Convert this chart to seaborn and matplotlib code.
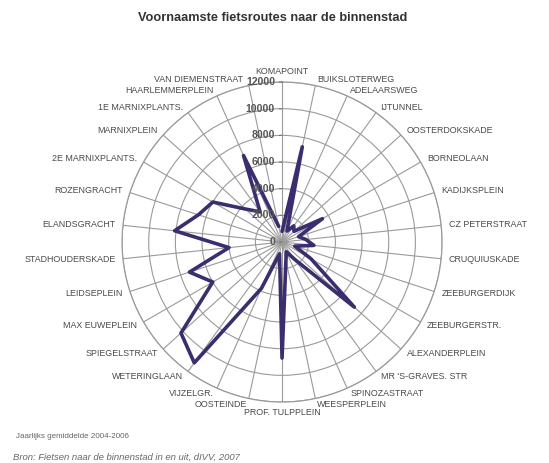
import numpy as np
import pandas as pd
import matplotlib
matplotlib.use("Agg")
import matplotlib.pyplot as plt
import seaborn as sns

# routes clockwise, starting at the top
routes = [
    "KOMAPOINT", "BUIKSLOTERWEG", "ADELAARSWEG", "IJTUNNEL", "OOSTERDOKSKADE",
    "BORNEOLAAN", "KADIJKSPLEIN", "CZ PETERSTRAAT", "CRUQUIUSKADE", "ZEEBURGERDIJK",
    "ZEEBURGERSTR.", "ALEXANDERPLEIN", "MR 'S-GRAVES. STR", "SPINOZASTRAAT", "WEESPERPLEIN",
    "PROF. TULPPLEIN", "OOSTEINDE", "VIJZELGR.", "WETERINGLAAN", "SPIEGELSTRAAT",
    "MAX EUWEPLEIN", "LEIDSEPLEIN", "STADHOUDERSKADE", "ELANDSGRACHT", "ROZENGRACHT",
    "2E MARNIXPLANTS.", "MARNIXPLEIN", "1E MARNIXPLANTS.", "HAARLEMMERPLEIN", "VAN DIEMENSTRAAT",
]
counts = [
    800, 7300, 900, 1500, 1200,
    3500, 1300, 1800, 2400, 1000,
    2500, 7300, 1600, 800, 1400,
    8700, 900, 3800, 11200, 10200,
    6000, 7300, 4000, 8100, 6600,
    6000, 3700, 2800, 7100, 1200,
]
ring_values = [0, 2000, 4000, 6000, 8000, 10000, 12000]

title = "Voornaamste fietsroutes naar de binnenstad"
footnote = "Jaarlijks gemiddelde 2004-2006"
source = "Bron: Fietsen naar de binnenstad in en uit, dIVV, 2007"

sns.set_theme(style="white")
plt.rcParams["font.family"] = ["Liberation Sans", "DejaVu Sans"]

grid_col = "#9a9a9a"
line_col = "#3b2d6e"

fig = plt.figure(figsize=(5.49, 4.63), dpi=100)
ax = fig.add_axes([0.2223, 0.1317, 0.5829, 0.6911], projection="polar")
ax.set_theta_zero_location("N")
ax.set_theta_direction(-1)

theta = np.linspace(0, 2 * np.pi, len(routes), endpoint=False)
df = pd.DataFrame({
    "theta": np.append(theta, theta[0]),
    "count": counts + counts[:1],
})
sns.lineplot(data=df, x="theta", y="count", sort=False, ax=ax,
             color=line_col, linewidth=2.6)

ax.set_ylim(0, ring_values[-1])
ax.set_yticks(ring_values[1:])
ax.set_yticklabels([])
ax.set_xticks(theta)
ax.set_xticklabels([])
ax.set_xlabel("")
ax.set_ylabel("")
ax.grid(True, color=grid_col, linewidth=0.8)
ax.spines["polar"].set_color(grid_col)
ax.spines["polar"].set_linewidth(0.9)

# route names round the outside
for i, (t, name) in enumerate(zip(theta, routes)):
    s, c = np.sin(t), np.cos(t)
    if abs(s) < 0.05:
        ha = "center"
        va = "bottom" if c > 0 else "top"
    else:
        ha = "left" if s > 0 else "right"
        va = "center"
    dx, dy = 5.5 * s, 4.5 * c
    if i == len(routes) - 1:
        dx -= 3  # keep clear of the 12000 label
    ax.annotate(name, xy=(t, ring_values[-1]), xytext=(dx, dy),
                textcoords="offset points", ha=ha, va=va,
                fontsize=6.4, color="#4a4a4a", annotation_clip=False)

# value axis labels along the top spoke
for v in ring_values:
    ax.annotate(f"{v}", xy=(0, v), xytext=(-5, 0), textcoords="offset points",
                ha="right", va="center", fontsize=7.6, fontweight="bold",
                color="#555555", annotation_clip=False)
    ax.annotate("", xy=(0, v), xytext=(-4, 0), textcoords="offset points",
                arrowprops=dict(arrowstyle="-", color="#777777", lw=0.8),
                annotation_clip=False)

fig.text(0.496, 1 - 18 / 463, title, ha="center", va="center",
         fontsize=9.2, fontweight="bold", color="#333333")
fig.text(16 / 549, 1 - 437 / 463, footnote, ha="left", va="center",
         fontsize=5.8, color="#666666")
fig.text(13 / 549, 1 - 457 / 463, source, ha="left", va="center",
         fontsize=6.8, style="italic", color="#666666")

fig.savefig("out.png", dpi=100)
